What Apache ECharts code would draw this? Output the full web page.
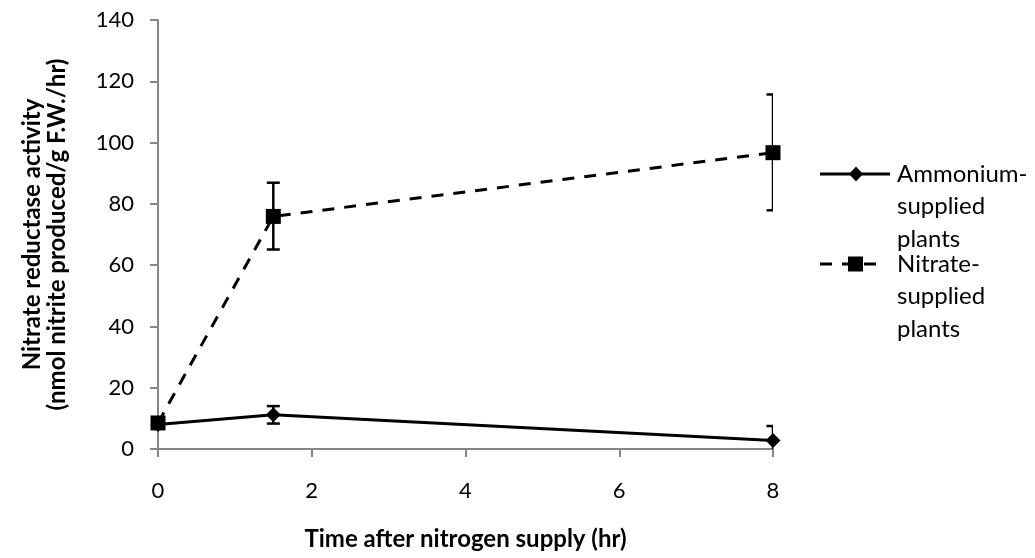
<!DOCTYPE html>
<html>
<head>
<meta charset="utf-8">
<script src="https://cdn.jsdelivr.net/npm/echarts@6/dist/echarts.min.js"></script>
<style>
  html, body { margin: 0; padding: 0; background: #fff; }
  #chart { width: 1035px; height: 558px; }
</style>
</head>
<body>
<div id="chart"></div>
<script>
// data
const hours = [0, 1.5, 8];
const ammonium = [8.0, 11.2, 2.8];
const ammoniumLow = [7.0, 8.3, -1.9];
const ammoniumHigh = [9.0, 14.0, 7.5];
const nitrate = [8.5, 75.9, 96.7];
const nitrateLow = [7.5, 65.1, 77.9];
const nitrateHigh = [9.5, 86.9, 115.7];
const legendNames = ["Ammonium-\nsupplied\nplants", "Nitrate-\nsupplied\nplants"];

const FONT = "Lato";
const axisGrey = "#868686";

var chart = echarts.init(document.getElementById("chart"));

function errorBars(low, high) {
  return {
    type: "custom",
    clip: true,
    z: 3,
    encode: { x: 0, y: [1, 2] },
    data: hours.map((h, i) => [h, low[i], high[i]]),
    renderItem(params, api) {
      const x = api.value(0);
      const lo = api.coord([x, api.value(1)]);
      const hi = api.coord([x, api.value(2)]);
      const w = 6.5;
      const st = { stroke: "#000", lineWidth: 2.5 };
      return {
        type: "group",
        children: [
          { type: "line", shape: { x1: lo[0], y1: lo[1], x2: hi[0], y2: hi[1] }, style: st },
          { type: "line", shape: { x1: lo[0] - w, y1: lo[1], x2: lo[0] + w, y2: lo[1] }, style: st },
          { type: "line", shape: { x1: hi[0] - w, y1: hi[1], x2: hi[0] + w, y2: hi[1] }, style: st },
        ],
      };
    },
  };
}

// legend drawn by hand so the marker sits on the first text line
function legendEntry(top, name, dashed, marker) {
  const lineStyle = { stroke: "#000", lineWidth: 3 };
  if (dashed) lineStyle.lineDash = [12, 10];
  const mk = marker === "diamond"
    ? { type: "polygon", shape: { points: [[856, top - 7.5], [863, top], [856, top + 7.5], [849, top]] }, style: { fill: "#000" } }
    : { type: "rect", shape: { x: 848, y: top - 7.5, width: 15, height: 15 }, style: { fill: "#000" } };
  return [
    { type: "line", shape: { x1: 820, y1: top, x2: dashed ? 878 : 890, y2: top }, style: lineStyle },
    mk,
    {
      type: "text",
      x: 897,
      y: top - 16,
      style: { text: name, font: "24px " + FONT, fill: "#000", lineHeight: 32.5, verticalAlign: "top" },
    },
  ];
}

chart.setOption({
  animation: false,
  textStyle: { fontFamily: FONT },
  grid: { left: 158, right: 262, top: 20, bottom: 109 },
  xAxis: {
    type: "value",
    min: 0,
    max: 8,
    interval: 2,
    name: "Time after nitrogen supply (hr)",
    nameLocation: "middle",
    nameGap: 78,
    nameTextStyle: { fontFamily: FONT, fontSize: 24, fontWeight: "bold", color: "#000" },
    axisLine: { show: true, lineStyle: { color: axisGrey, width: 2 } },
    axisTick: { show: true, length: 8, lineStyle: { color: axisGrey, width: 2 } },
    splitLine: { show: false },
    axisLabel: { fontFamily: FONT, fontSize: 22, color: "#000", margin: 31 },
  },
  yAxis: {
    type: "value",
    min: 0,
    max: 140,
    interval: 20,
    name: "Nitrate reductase activity\n(nmol nitrite produced/g F.W./hr)",
    nameLocation: "middle",
    nameRotate: 90,
    nameGap: 88,
    nameTextStyle: { fontFamily: FONT, fontSize: 24, fontWeight: "bold", color: "#000", lineHeight: 25 },
    axisLine: { show: true, lineStyle: { color: axisGrey, width: 2 } },
    axisTick: { show: true, length: 8, lineStyle: { color: axisGrey, width: 2 } },
    splitLine: { show: false },
    axisLabel: { fontFamily: FONT, fontSize: 22, color: "#000", margin: 24 },
  },
  series: [
    {
      name: legendNames[0],
      type: "line",
      data: hours.map((h, i) => [h, ammonium[i]]),
      symbol: "diamond",
      symbolSize: 15,
      itemStyle: { color: "#000" },
      lineStyle: { color: "#000", width: 3 },
      z: 2,
    },
    {
      name: legendNames[1],
      type: "line",
      data: hours.map((h, i) => [h, nitrate[i]]),
      symbol: "rect",
      symbolSize: 15,
      itemStyle: { color: "#000" },
      lineStyle: { color: "#000", width: 3, type: [12, 10] },
      z: 4,
    },
    errorBars(ammoniumLow, ammoniumHigh),
    errorBars(nitrateLow, nitrateHigh),
  ],
  graphic: [
    ...legendEntry(174, legendNames[0], false, "diamond"),
    ...legendEntry(264, legendNames[1], true, "rect"),
  ],
});
</script>
</body>
</html>
